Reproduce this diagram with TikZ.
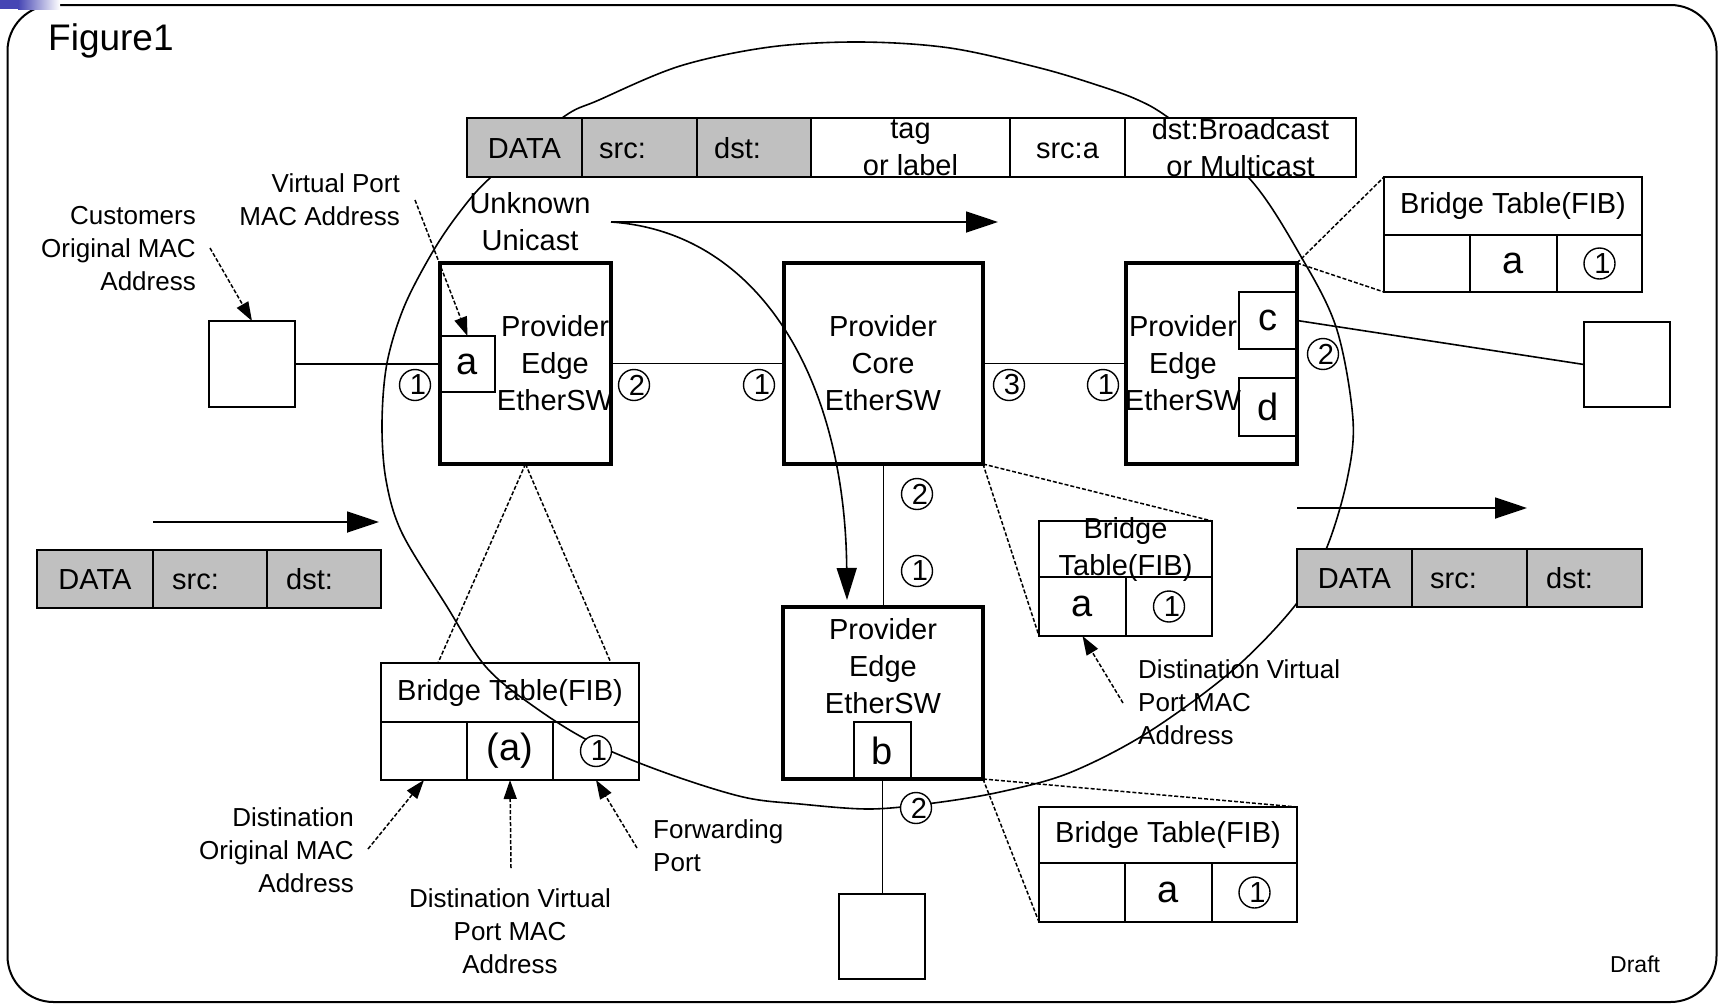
\documentclass[tikz,border=0pt]{standalone}
\usepackage{fontspec}
\setmainfont{Liberation Sans}
\usetikzlibrary{arrows.meta,fit,calc}
\definecolor{pktgray}{RGB}{192,192,192}
\definecolor{barblue}{RGB}{70,70,180}
\newcommand\fMain{\fontsize{29}{37}\selectfont}
\newcommand\fLab{\fontsize{26}{33}\selectfont}
\newcommand\fBig{\fontsize{38}{40}\selectfont}
\newcommand\fNum{\fontsize{29}{29}\selectfont}
\newcommand\pd[1]{\hspace*{6pt}#1}
\begin{document}
\begin{tikzpicture}[x=1pt,y=-1pt,
  box/.style={draw, inner sep=0pt, outer sep=0pt},
  swbox/.style={box, line width=3.6pt},
  subbox/.style={box, line width=1.8pt},
  hostbox/.style={box, line width=1.8pt},
  cellg/.style={box, line width=2pt, fill=pktgray},
  cellw/.style={box, line width=2pt, fill=white},
  tcell/.style={box, line width=2pt},
  link/.style={line width=1.6pt},
  dline/.style={line width=1.5pt, dash pattern=on 4pt off 2pt},
  darrow/.style={dline, -{Triangle[length=19pt,width=13pt]}},
  bigarrow/.style={line width=1.8pt, -{Triangle[length=32pt,width=21pt]}},
  port/.style={circle, draw, fill=white, line width=1.4pt, inner sep=0pt, minimum size=31pt, font=\fNum},
  txt/.style={inner sep=0pt, font=\fMain},
  lab/.style={inner sep=0pt, font=\fLab},
  big/.style={inner sep=0pt, font=\fBig},
]
\useasboundingbox (0,0) rectangle (1719,1004);
% frame
\draw[line width=2pt, rounded corners=46pt] (7.5,5) rectangle (1716.5,1002);
\fill[barblue] (0,0) rectangle (18,9);
\shade[left color=barblue, right color=white] (18,0) rectangle (60,9);
\node[inner sep=0pt, anchor=base west, font=\fontsize{37}{40}\selectfont] (fig) at (48,50) {Figure1};
\node[inner sep=0pt, anchor=base west, font=\fontsize{23}{26}\selectfont] (draft) at (1610,972) {Draft};

% big loop
\draw[link] plot[smooth cycle, tension=0.55] coordinates {
 (562,118) (599,100) (680,66) (770,47) (860,42) (950,48) (1040,68) (1100,86)
 (1138,100) (1169,118) (1248,177) (1303,260) (1337,330) (1353,420) (1347,480)
 (1327,547) (1297,603) (1233,670) (1147,733) (1069,773) (1000,792) (934,803)
 (870,809) (800,804) (743,797) (666,773) (593,743) (536,708) (486,667)
 (446,605) (402,533) (386,480) (382,423) (387,363) (404,307) (432,253)
 (459,213) (490,178)};

% top packet
\node[cellg, fit={(467,118) (582,177)}] (t1) {};
\node[cellg, fit={(582,118) (697,177)}] (t2) {};
\node[cellg, fit={(697,118) (811,177)}] (t3) {};
\node[cellw, fit={(811,118) (1010,177)}] (t4) {};
\node[cellw, fit={(1010,118) (1125,177)}] (t5) {};
\node[cellw, fit={(1125,118) (1356,177)}] (t6) {};
\node[txt, anchor=base] (t1t) at ($(t1.center)+(0,10.5)$) {DATA};
\node[txt, anchor=base west] (t2t) at ($(t2.west)+(17,10.5)$) {src:};
\node[txt, anchor=base west] (t3t) at ($(t3.west)+(17,10.5)$) {dst:};
\node[txt, align=center] (t4t) at (t4.center) {tag\\or label};
\node[txt, anchor=base] (t5t) at ($(t5.center)+(0,10.5)$) {src:a};
\node[txt, align=center] (t6t) at (t6.center) {dst:Broadcast\\or Multicast};

% left packet
\node[cellg, fit={(37,550) (153,608)}] (l1) {};
\node[cellg, fit={(153,550) (267,608)}] (l2) {};
\node[cellg, fit={(267,550) (381,608)}] (l3) {};
\node[txt, anchor=base] (l1t) at ($(l1.center)+(0,10.5)$) {DATA};
\node[txt, anchor=base west] (l2t) at ($(l2.west)+(19,10.5)$) {src:};
\node[txt, anchor=base west] (l3t) at ($(l3.west)+(19,10.5)$) {dst:};

% right packet
\node[cellg, fit={(1297,549) (1412,607)}] (r1) {};
\node[cellg, fit={(1412,549) (1527,607)}] (r2) {};
\node[cellg, fit={(1527,549) (1642,607)}] (r3) {};
\node[txt, anchor=base] (r1t) at ($(r1.center)+(0,10.5)$) {DATA};
\node[txt, anchor=base west] (r2t) at ($(r2.west)+(18,10.5)$) {src:};
\node[txt, anchor=base west] (r3t) at ($(r3.west)+(19,10.5)$) {dst:};

% flow arrows
\coordinate (la1) at (153,522); \coordinate (la2) at (379,522);
\draw[bigarrow] (la1) -- (la2);
\coordinate (ra1) at (1297,508); \coordinate (ra2) at (1527,508);
\draw[bigarrow] (ra1) -- (ra2);

% switches
\node[swbox, fit={(440,263) (611,464)}] (pe1) {};
\node[swbox, fit={(784,263) (983,464)}] (core) {};
\node[swbox, fit={(1126,263) (1297,464)}] (pe3) {};
\node[swbox, fit={(783,607) (983,779)}] (pe2) {};
\node[subbox, fit={(440,336) (495,392)}] (va) {};
\node[subbox, fit={(1239,292) (1297,349)}] (vc) {};
\node[subbox, fit={(1239,378) (1297,436)}] (vd) {};
\node[subbox, fit={(854,722) (911,779)}] (vb) {};
\node[big] (vat) at (va.center) {a};
\node[big] (vct) at (vc.center) {c};
\node[big] (vdt) at (vd.center) {d};
\node[big] (vbt) at (vb.center) {b};
\node[txt, align=center] (pe1t) at (555,363) {Provider\\Edge\\EtherSW};
\node[txt, align=center] (coret) at (883,363) {Provider\\Core\\EtherSW};
\node[txt, align=center] (pe3t) at (1183,363) {Provider\\Edge\\EtherSW};
\node[txt, align=center] (pe2t) at (883,666) {Provider\\Edge\\EtherSW};

% hosts
\node[hostbox, fit={(209,321) (295,407)}] (h1) {};
\node[hostbox, fit={(1584,322) (1670,407)}] (h3) {};
\node[hostbox, fit={(839,894) (925,979)}] (h2) {};

% links
\draw[link] (h1.east) -- (h1.east -| pe1.west);
\draw[link] (pe1.east) -- (core.west);
\draw[link] (core.east) -- (pe3.west);
\draw[link] (vc.east) -- (h3.west);
\draw[link] (core.south) -- (pe2.north -| core.south);
\draw[link] (vb.south) -- (h2.north -| vb.south);

% unknown unicast
\node[txt, align=center] (uu) at (530,221.5) {Unknown\\Unicast};
\coordinate (us) at (611,222);
\coordinate (ua) at (998,222);
\coordinate (ue) at (847,600);
\draw[bigarrow] (us) -- (ua);
\draw[link, -{Triangle[length=32pt,width=20pt]}] (us) .. controls (760,232) and (845,380) .. (ue);

% ports
\node[port] (p11) at (415,385) {\pd1};
\node[port] (p12) at (634,385) {\pd2};
\node[port] (pc1) at (759,385) {\pd1};
\node[port] (pc3) at (1009,385) {\pd3};
\node[port] (p31) at (1103,385) {\pd1};
\node[port] (p32) at (1323,354) {\pd2};
\node[port] (pc2) at (917,494) {\pd2};
\node[port] (p21) at (917,571) {\pd1};
\node[port] (p22) at (916,808) {\pd2};

% left bridge table
\node[tcell, fit={(381,663) (639,722)}] (ltH) {};
\node[tcell, fit={(381,722) (467,780)}] (ltA) {};
\node[tcell, fit={(467,722) (553,780)}] (ltB) {};
\node[tcell, fit={(553,722) (639,780)}] (ltC) {};
\node[txt] (ltHt) at (ltH.center) {Bridge Table(FIB)};
\node[big] (ltBt) at (ltB.center) {(a)};
\node[port] (ltCp) at (ltC.center) {\pd1};

% middle bridge table
\node[tcell, fit={(1039,521) (1212,577)}] (mtH) {};
\node[tcell, fit={(1039,577) (1126,636)}] (mtA) {};
\node[tcell, fit={(1126,577) (1212,636)}] (mtB) {};
\node[txt, align=center] (mtHt) at (mtH.center) {Bridge\\Table(FIB)};
\node[big] (mtAt) at (mtA.center) {a};
\node[port] (mtBp) at (mtB.center) {\pd1};

% top right bridge table
\node[tcell, fit={(1384,177) (1642,235)}] (rtH) {};
\node[tcell, fit={(1384,235) (1470,292)}] (rtA) {};
\node[tcell, fit={(1470,235) (1557,292)}] (rtB) {};
\node[tcell, fit={(1557,235) (1642,292)}] (rtC) {};
\node[txt] (rtHt) at (rtH.center) {Bridge Table(FIB)};
\node[big] (rtBt) at (rtB.center) {a};
\node[port] (rtCp) at (rtC.center) {\pd1};

% bottom bridge table
\node[tcell, fit={(1039,807) (1297,863)}] (btH) {};
\node[tcell, fit={(1039,863) (1125,922)}] (btA) {};
\node[tcell, fit={(1125,863) (1212,922)}] (btB) {};
\node[tcell, fit={(1212,863) (1297,922)}] (btC) {};
\node[txt] (btHt) at (btH.center) {Bridge Table(FIB)};
\node[big] (btBt) at (btB.center) {a};
\node[port] (btCp) at (btC.center) {\pd1};

% dashed zoom lines
\coordinate (lt1) at (438,663); \coordinate (lt2) at (611,663);
\draw[dline] (pe1.south) -- (lt1);
\draw[dline] (pe1.south) -- (lt2);
\draw[dline] (core.south east) -- (mtA.south west);
\draw[dline] (core.south east) -- (mtH.north east);
\draw[dline] (pe3.north east) -- (rtH.north west);
\draw[dline] (pe3.north east) -- (rtA.south west);
\draw[dline] (pe2.south east) -- (btH.north east);
\draw[dline] (pe2.south east) -- (btA.south west);

% labels
\node[lab, align=right, anchor=east] (lcust) at (196,248.5) {Customers\\Original MAC\\Address};
\node[lab, align=right, anchor=east] (lvp) at (400,199.5) {Virtual Port\\MAC Address};
\node[lab, align=right, anchor=east] (ldo) at (354,850) {Distination\\Original MAC\\Address};
\node[lab, align=center] (ldv) at (510,931) {Distination Virtual\\Port MAC\\Address};
\node[lab, align=left, anchor=west] (lfp) at (653,846) {Forwarding\\Port};
\node[lab, align=left, anchor=west] (ldv2) at (1138,702) {Distination Virtual\\Port MAC\\Address};

\coordinate (cuS) at (210,248);
\coordinate (vpS) at (415,200);
\coordinate (doS) at (368,849);
\coordinate (dvS) at (511,868);
\coordinate (fpS) at (637,848);
\coordinate (dv2S) at (1123,703);
\draw[darrow] (cuS) -- (h1.north);
\draw[darrow] (vpS) -- (va.north);
\draw[darrow] (doS) -- (ltA.south);
\draw[darrow] (dvS) -- (ltB.south);
\draw[darrow] (fpS) -- (ltC.south);
\draw[darrow] (dv2S) -- (mtA.south);
\end{tikzpicture}
\end{document}
